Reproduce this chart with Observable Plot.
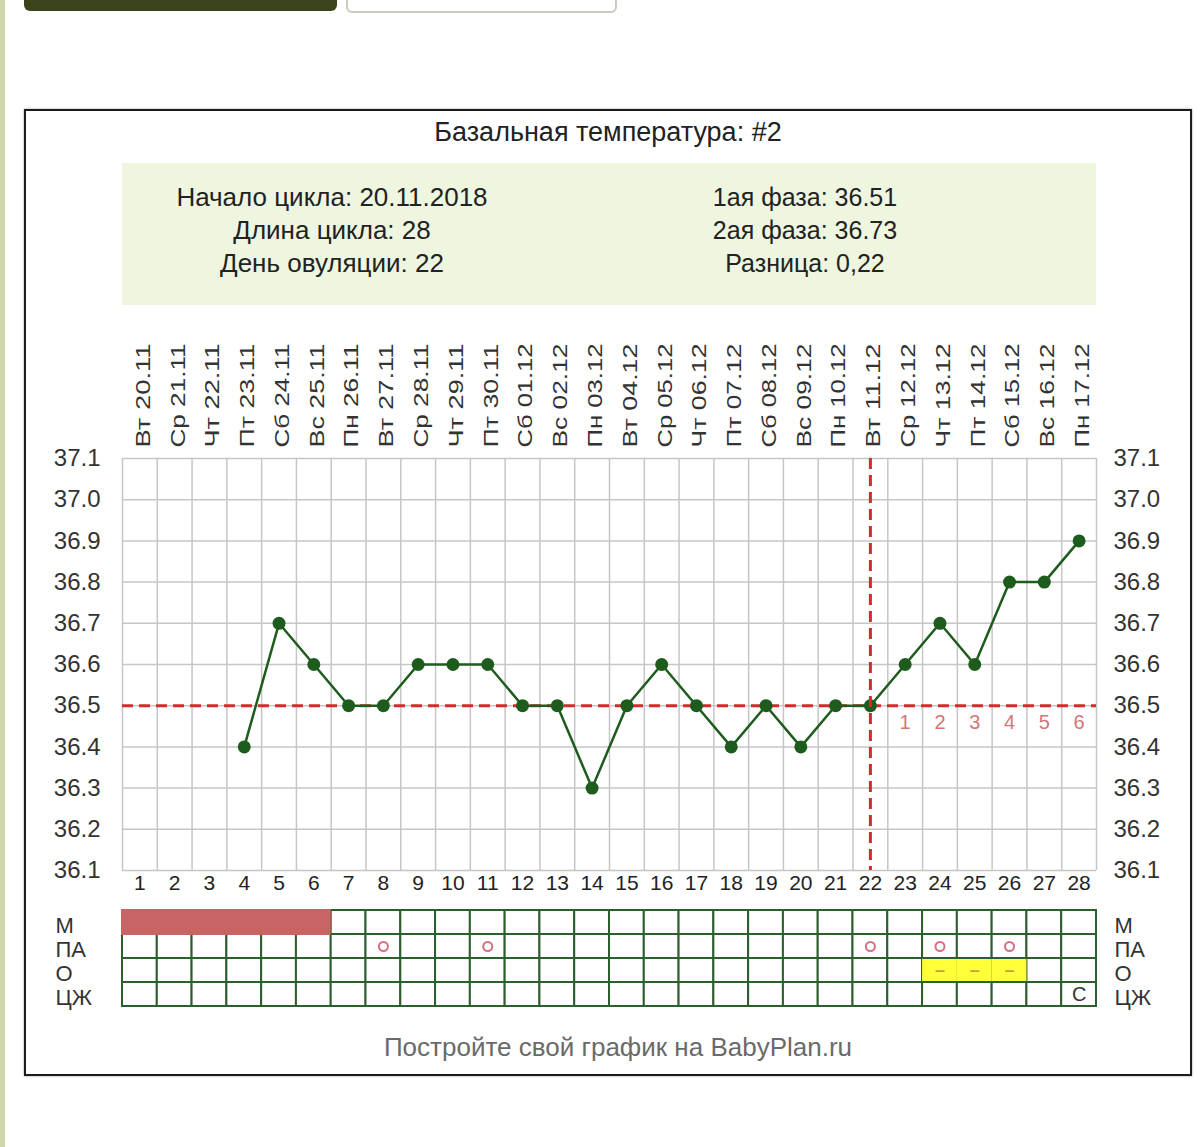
<!DOCTYPE html>
<html>
<head>
<meta charset="utf-8">
<script src="https://cdn.jsdelivr.net/npm/d3@7"></script>
<script src="https://cdn.jsdelivr.net/npm/@observablehq/plot@0.6"></script>
<style>
  html, body { margin: 0; padding: 0; background: #fff; }
  body { font-family: "Liberation Sans", Arial, sans-serif; color: #222; }
  #page { position: relative; width: 1200px; height: 1147px; overflow: hidden; background: #fff; }
  .strip { position: absolute; left: 0; top: 0; width: 5px; height: 1147px; background: #cdd6a8; }
  .btn1 { position: absolute; left: 24px; top: -10px; width: 313px; height: 21px; background: #3a431b; border-radius: 6px; }
  .btn2 { position: absolute; left: 346px; top: -10px; width: 267px; height: 19px; background: #fff; border: 2px solid #c9cdbf; border-radius: 6px; }
  .frame { position: absolute; left: 24px; top: 109px; width: 1168px; height: 967px; box-sizing: border-box; border: 2px solid #1c1c1c; box-shadow: 0 0 2px #999; }
  #title { position: absolute; left: 24px; width: 1168px; top: 117px; text-align: center; font-size: 27px; line-height: 30px; color: #222; }
  #info { position: absolute; left: 122px; top: 163px; width: 974px; height: 142px; background: #eff6df; }
  .col { position: absolute; top: 18px; width: 420px; text-align: center; font-size: 25px; line-height: 33px; color: #222; }
  #infoL { font-size: 26px; }
  #chart { position: absolute; left: 0; top: 320px; }
  #table { position: absolute; left: 0; top: 898px; }
  #caption { position: absolute; left: 24px; width: 1188px; top: 1032px; text-align: center; font-size: 26px; line-height: 30px; color: #6a6a6a; }
</style>
</head>
<body>
<div id="page">
  <div class="strip"></div>
  <div class="btn1"></div>
  <div class="btn2"></div>
  <div class="frame"></div>
  <div id="title"></div>
  <div id="info"><div class="col" id="infoL" style="left:0px"></div><div class="col" id="infoR" style="left:473px"></div></div>
  <div id="chart"></div>
  <div id="table"></div>
  <div id="caption"></div>
</div>
<script>
// ---------- data ----------
const chartTitle = "Базальная температура: #2";
const cycleStart = "20.11.2018";
const cycleLength = 28;
const ovulationDay = 22;
const phase1 = "36.51";
const phase2 = "36.73";
const phaseDiff = "0,22";
const captionText = "Постройте свой график на BabyPlan.ru";

const days = [1,2,3,4,5,6,7,8,9,10,11,12,13,14,15,16,17,18,19,20,21,22,23,24,25,26,27,28];
const weekdays = ["Вт","Ср","Чт","Пт","Сб","Вс","Пн","Вт","Ср","Чт","Пт","Сб","Вс","Пн",
                  "Вт","Ср","Чт","Пт","Сб","Вс","Пн","Вт","Ср","Чт","Пт","Сб","Вс","Пн"];
const dates = ["20.11","21.11","22.11","23.11","24.11","25.11","26.11","27.11","28.11","29.11","30.11","01.12","02.12","03.12",
               "04.12","05.12","06.12","07.12","08.12","09.12","10.12","11.12","12.12","13.12","14.12","15.12","16.12","17.12"];
const temps = [null,null,null,36.4,36.7,36.6,36.5,36.5,36.6,36.6,36.6,36.5,36.5,36.3,
               36.5,36.6,36.5,36.4,36.5,36.4,36.5,36.5,36.6,36.7,36.6,36.8,36.8,36.9];
const yTicks = [36.1,36.2,36.3,36.4,36.5,36.6,36.7,36.8,36.9,37.0,37.1];
const coverline = 36.5;

const rows = ["М","ПА","О","ЦЖ"];
const mensesDays = [1,2,3,4,5,6];
const paDays = [8,11,22,24,26];
const oDays = [24,25,26];
const cmMarks = [{day: 28, mark: "С"}];

// ---------- html text ----------
document.getElementById("title").textContent = chartTitle;
document.getElementById("infoL").innerHTML =
  `Начало цикла: ${cycleStart}<br>Длина цикла: ${cycleLength}<br>День овуляции: ${ovulationDay}`;
document.getElementById("infoR").innerHTML =
  `1ая фаза: ${phase1}<br>2ая фаза: ${phase2}<br>Разница: ${phaseDiff}`;
document.getElementById("caption").textContent = captionText;

// ---------- main chart ----------
const font = "'Liberation Sans', Arial, sans-serif";
const tempData = days.map((d, i) => ({day: d, temp: temps[i]})).filter(d => d.temp != null);
const boundaries = [0.5].concat(days.map(d => d + 0.5));
const postOv = days.filter(d => d > ovulationDay).map((d, i) => ({day: d, n: String(i + 1)}));

const chart = Plot.plot({
  width: 1200,
  height: 588,
  marginTop: 138,
  marginBottom: 38,
  marginLeft: 122,
  marginRight: 104,
  style: {fontFamily: font, background: "transparent", overflow: "visible"},
  x: {domain: [0.5, 28.5], axis: null},
  y: {domain: [36.1, 37.1], axis: null},
  marks: [
    Plot.ruleX(boundaries, {stroke: "#c6c6c6", strokeWidth: 1.5}),
    Plot.ruleY(yTicks, {stroke: "#c6c6c6", strokeWidth: 1.5}),
    Plot.ruleY([coverline], {stroke: "#d32b2b", strokeWidth: 3, strokeDasharray: "11,6"}),
    Plot.line(tempData, {x: "day", y: "temp", stroke: "#1e5c1e", strokeWidth: 2.5}),
    Plot.dot(tempData, {x: "day", y: "temp", r: 6.5, fill: "#1e5c1e"}),
    Plot.ruleX([ovulationDay], {stroke: "#d32b2b", strokeWidth: 3, strokeDasharray: "11,6"}),
    Plot.text(postOv, {x: "day", y: () => coverline, dy: 17, text: "n", fill: "#d07878", fontSize: 20}),
    Plot.text(yTicks, {y: d => d, frameAnchor: "left", dx: -22, textAnchor: "end", text: d => d.toFixed(1), fontSize: 24, fill: "#333"}),
    Plot.text(yTicks, {y: d => d, frameAnchor: "right", dx: 17, textAnchor: "start", text: d => d.toFixed(1), fontSize: 24, fill: "#333"}),
    Plot.text(days, {x: d => d, frameAnchor: "bottom", dy: 19, text: d => String(d), fontSize: 21, fill: "#222"}),
    Plot.text(days, {x: d => d, frameAnchor: "top", dy: -11, dx: -4, rotate: -90, textAnchor: "start",
                     text: d => `${weekdays[d - 1]} ${dates[d - 1]}`, fontSize: 19.5, fill: "#333"})
  ]
});
d3.select(chart).selectAll("text").filter(function() {
  const t = this.getAttribute("transform") || "";
  return t.includes("rotate");
}).attr("textLength", 104).attr("lengthAdjust", "spacingAndGlyphs");
document.getElementById("chart").appendChild(chart);

// ---------- lower table ----------
const cells = rows.flatMap(r => days.map(d => ({day: d, row: r})))
  .filter(c => !(c.row === "М" && mensesDays.includes(c.day)));
const mensesSpan = [{x1: d3.min(mensesDays) - 0.5, x2: d3.max(mensesDays) + 0.5}];
const green = "#2d5e2d";
const table = Plot.plot({
  width: 1200,
  height: 119,
  marginTop: 10,
  marginBottom: 10,
  marginLeft: 122,
  marginRight: 104,
  style: {fontFamily: font, background: "transparent", overflow: "visible"},
  x: {domain: [0.5, 28.5], axis: null},
  y: {domain: rows, padding: 0, axis: null},
  marks: [
    Plot.barX(cells, {x1: d => d.day - 0.5, x2: d => d.day + 0.5, y: "row", fill: "#fff", stroke: green, strokeWidth: 2}),
    Plot.barX(mensesSpan, {x1: "x1", x2: "x2", y: () => "М", fill: "#c96464", insetTop: -1, insetBottom: -1, insetLeft: -1}),
    Plot.barX(oDays, {x1: d => d - 0.5, x2: d => d + 0.5, y: () => "О", fill: "#ffff3a", insetTop: 1, insetBottom: 1}),
    Plot.text(oDays, {x: d => d, y: () => "О", text: () => "–", fill: "#c9a040", fontSize: 18, fontWeight: "bold"}),
    Plot.dot(paDays, {x: d => d, y: () => "ПА", r: 4.5, stroke: "#d4707f", strokeWidth: 2, fill: "none"}),
    Plot.text(cmMarks, {x: "day", y: () => "ЦЖ", text: "mark", fontSize: 20, fill: "#333"}),
    Plot.text(rows, {y: d => d, frameAnchor: "left", dx: -67, dy: 3, textAnchor: "start", text: d => d, fontSize: 22, fill: "#333"}),
    Plot.text(rows, {y: d => d, frameAnchor: "right", dx: 18, dy: 3, textAnchor: "start", text: d => d, fontSize: 22, fill: "#333"})
  ]
});
document.getElementById("table").appendChild(table);
</script>
</body>
</html>
